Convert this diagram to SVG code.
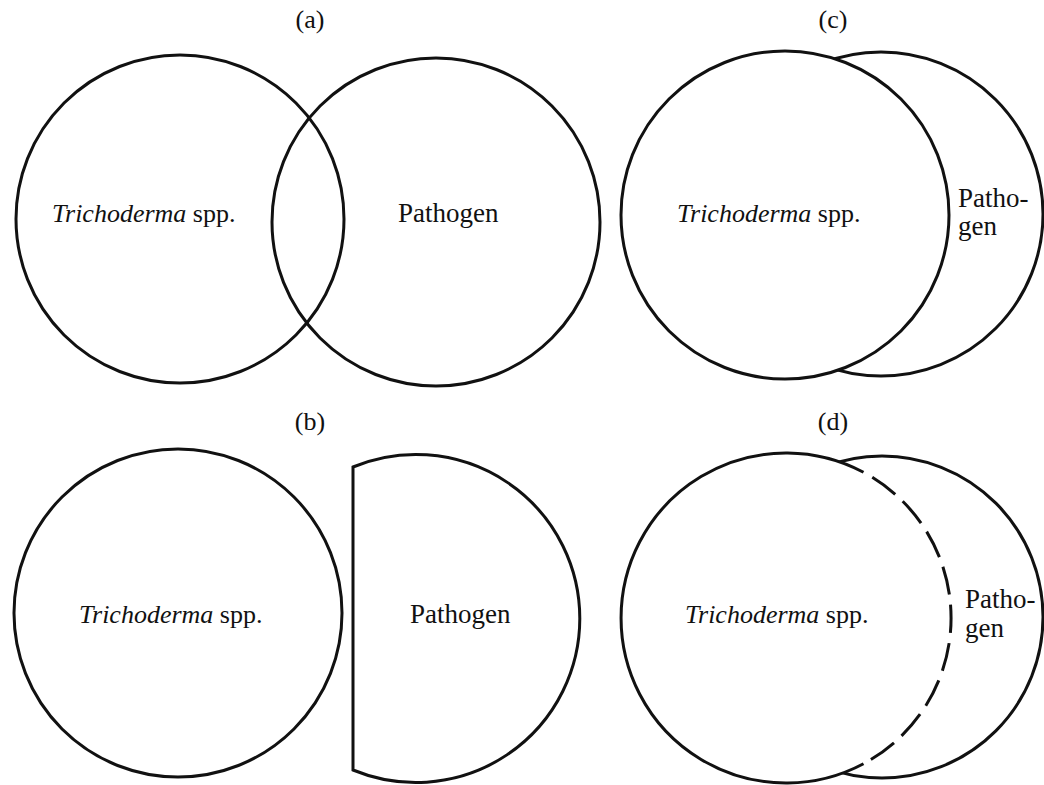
<svg xmlns="http://www.w3.org/2000/svg" width="1044" height="785" viewBox="0 0 1044 785">
<style>
  .c { fill: #ffffff; stroke: #111111; stroke-width: 3; }
  .s { fill: none; stroke: #111111; stroke-width: 3; }
  .d { fill: none; stroke: #111111; stroke-width: 3; stroke-dasharray: 28.5 10.2; stroke-dashoffset: 28.5; }
  .w { fill: #ffffff; stroke: none; }
  text { font-family: "Liberation Serif", "Times New Roman", serif; font-size: 26px; fill: #111111; }
  .p { font-size: 27px; }
  .lab { text-anchor: middle; }
</style>
<rect width="1044" height="785" fill="#ffffff"/>

<g id="panel-a">
  <text class="lab" x="310" y="28">(a)</text>
  <g id="a-trichoderma">
    <circle class="s" cx="180" cy="219" r="164"/>
    <text x="52" y="222"><tspan font-style="italic">Trichoderma</tspan> spp.</text>
  </g>
  <g id="a-pathogen">
    <circle class="s" cx="436" cy="222" r="164"/>
    <text class="p" x="398" y="222">Pathogen</text>
  </g>
</g>

<g id="panel-b">
  <text class="lab" x="310" y="430">(b)</text>
  <g id="b-trichoderma">
    <circle class="s" cx="178" cy="613" r="164"/>
    <text x="79" y="623"><tspan font-style="italic">Trichoderma</tspan> spp.</text>
  </g>
  <g id="b-pathogen">
    <path class="s" d="M 353 467 A 164 164 0 1 1 353 770 Z"/>
    <text class="p" x="410" y="623">Pathogen</text>
  </g>
</g>

<g id="panel-c">
  <text class="lab" x="833" y="28">(c)</text>
  <g id="c-pathogen">
    <circle class="s" cx="881" cy="214" r="162"/>
    <text class="p" x="958" y="207">Patho-</text>
    <text class="p" x="958" y="235">gen</text>
  </g>
  <g id="c-trichoderma">
    <circle class="c" cx="785" cy="215" r="164"/>
    <text x="677" y="222"><tspan font-style="italic">Trichoderma</tspan> spp.</text>
  </g>
</g>

<g id="panel-d">
  <text class="lab" x="833" y="430">(d)</text>
  <g id="d-pathogen">
    <circle class="s" cx="882" cy="617" r="161"/>
    <text class="p" x="965" y="608">Patho-</text>
    <text class="p" x="965" y="637">gen</text>
  </g>
  <g id="d-trichoderma">
    <circle class="w" cx="786" cy="618" r="165"/>
    <path class="s" d="M 863.5 763.7 A 165 165 0 1 1 863.5 472.3"/>
    <path class="d" d="M 863.5 472.3 A 165 165 0 0 1 863.5 763.7"/>
    <text x="685" y="623"><tspan font-style="italic">Trichoderma</tspan> spp.</text>
  </g>
</g>

<g id="connectors"></g>
</svg>
